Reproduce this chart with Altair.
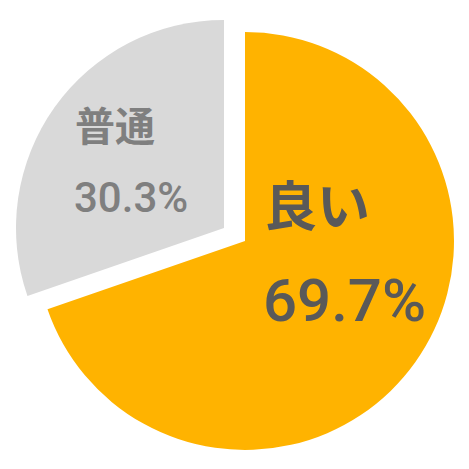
import altair as alt
import pandas as pd

categories = ["良い", "普通"]
values = [69.7, 30.3]
pct_labels = ["69.7%", "30.3%"]
colors = ["#FFB300", "#D9D9D9"]
order = [0, 1]

df = pd.DataFrame({"cat": categories, "value": values, "pct": pct_labels, "order": order})

base = alt.Chart(df).transform_stack(
    stack="value", as_=["v0", "v1"], groupby=[], sort=[alt.SortField("order")]
)

theta_scale = alt.Scale(domain=[0, 100])
color_scale = alt.Scale(domain=categories, range=colors)


def slice_layer(cat, cx, cy, r):
    return base.transform_filter(alt.datum.cat == cat).mark_arc(outerRadius=r).encode(
        theta=alt.Theta("v0:Q", scale=theta_scale),
        theta2="v1:Q",
        color=alt.Color("cat:N", scale=color_scale, legend=None),
        x=alt.value(cx),
        y=alt.value(cy),
    )


good = slice_layer("良い", 237, 233, 209)
normal = slice_layer("普通", 216, 220, 208)


def label(cat, field, x, y, size, color, font, weight):
    return alt.Chart(df).transform_filter(alt.datum.cat == cat).mark_text(
        align="left", baseline="alphabetic", font=font,
        fontWeight=weight, fontSize=size, color=color
    ).encode(text=f"{field}:N", x=alt.value(x), y=alt.value(y))


texts = [
    label("良い", "cat", 256, 218, 53, "#595959", "Noto Sans CJK JP", "bold"),
    label("良い", "pct", 255, 313, 60, "#595959", "Roboto", 500),
    label("普通", "cat", 67, 133, 40, "#7F7F7F", "Noto Sans CJK JP", "bold"),
    label("普通", "pct", 66, 204, 42, "#7F7F7F", "Roboto", 500),
]

chart = alt.layer(good, normal, *texts).properties(
    width=453, height=453, padding=0, autosize="none", background="white"
).configure_view(stroke=None)

chart.save("out.html", embed_options={"renderer": "svg", "actions": False})
